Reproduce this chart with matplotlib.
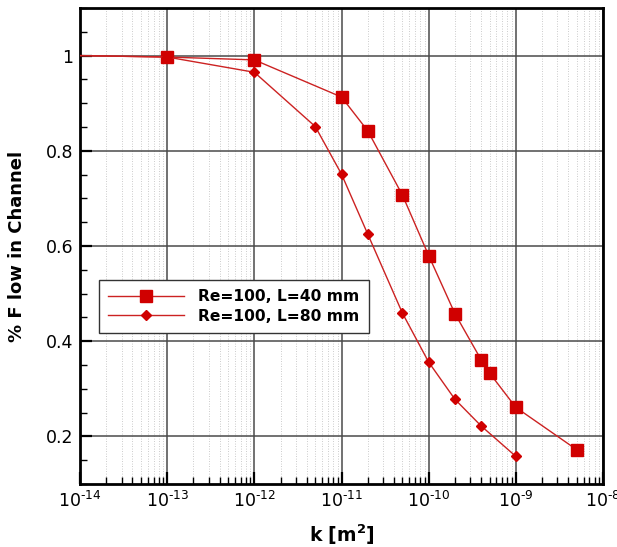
import matplotlib
matplotlib.use("Agg")
import matplotlib.pyplot as plt
import numpy as np
from matplotlib.ticker import LogLocator, MultipleLocator, FuncFormatter, NullFormatter

plt.rcParams['font.family'] = ['DejaVu Sans']
plt.rcParams['mathtext.fontset'] = 'dejavusans'
plt.rcParams['mathtext.default'] = 'regular'

# Data
k_40 = [1e-14, 1e-13, 1e-12, 1e-11, 2e-11, 5e-11, 1e-10, 2e-10, 4e-10, 5e-10, 1e-9, 5e-9]
flow_40 = [1.0, 0.997, 0.991, 0.913, 0.842, 0.707, 0.580, 0.458, 0.361, 0.333, 0.261, 0.172]
k_80 = [1e-14, 1e-13, 1e-12, 5e-12, 1e-11, 2e-11, 5e-11, 1e-10, 2e-10, 4e-10, 1e-9]
flow_80 = [1.0, 0.997, 0.965, 0.851, 0.751, 0.625, 0.459, 0.356, 0.278, 0.222, 0.158]
labels = ['Re=100, L=40 mm', 'Re=100, L=80 mm']
y_ticks = [0.2, 0.4, 0.6, 0.8, 1.0]

line_red = '#cc2222'
mark_red = '#d00000'

fig = plt.figure(figsize=(6.17, 5.47), dpi=100)
ax = fig.add_axes([80/617, 1-484/547, 523/617, 476/547])

ax.plot(k_40, flow_40, color=line_red, lw=1.0, marker='s', ms=8, mfc=mark_red,
        mec=mark_red, markevery=list(range(1, len(k_40))), label=labels[0], zorder=3)
ax.plot(k_80, flow_80, color=line_red, lw=1.0, marker='D', ms=5.2, mfc=mark_red,
        mec=mark_red, markevery=list(range(1, len(k_80))), label=labels[1], zorder=3)

ax.set_xscale('log')
ax.set_xlim(1e-14, 1e-8)
ax.set_ylim(0.1, 1.1)


def pow_fmt(v, p):
    e = int(round(np.log10(v)))
    sign = '\u2010' if e < 0 else ''
    return r'$10^{%s%d}$' % (sign, abs(e))


ax.xaxis.set_major_locator(LogLocator(base=10, numticks=20))
ax.xaxis.set_minor_locator(LogLocator(base=10, subs=range(2, 10), numticks=100))
ax.xaxis.set_major_formatter(FuncFormatter(pow_fmt))
ax.xaxis.set_minor_formatter(NullFormatter())
ax.set_yticks(y_ticks)
ax.yaxis.set_minor_locator(MultipleLocator(0.05))
ax.yaxis.set_major_formatter(FuncFormatter(lambda v, p: '%g' % v))

ax.grid(which='major', color='#4a4a4a', lw=1.1, ls='-', zorder=1)
ax.grid(which='minor', axis='x', color='#bbbbbb', lw=0.6, ls=(0, (1, 2)), zorder=0)
ax.set_axisbelow(True)

ax.tick_params(which='both', direction='in', top=False, right=False, labelsize=12.5)
ax.tick_params(which='major', length=8.5, width=1.6)
ax.tick_params(which='minor', length=5, width=1.0)
ax.tick_params(axis='y', which='major', pad=5)
ax.tick_params(axis='x', which='major', pad=5)

for s in ax.spines.values():
    s.set_linewidth(2.0)
    s.set_color('black')

ax.set_xlabel(r'k [m$^{\mathbf{2}}$]', fontsize=13.5, fontweight='bold', labelpad=8)
ax.set_ylabel('% F low in Channel', fontsize=13, fontweight='bold')
ax.yaxis.set_label_coords(-0.103, 0.5)

leg = ax.legend(loc='lower left', bbox_to_anchor=(0.036, 0.317), borderaxespad=0,
                prop={'weight': 'bold', 'size': 11.2}, handlelength=4.9,
                handletextpad=0.9, fancybox=False, framealpha=1, edgecolor='#333333',
                borderpad=0.6, labelspacing=0.3)
leg.get_frame().set_linewidth(1.0)
leg.set_zorder(10)

fig.savefig('out.png', dpi=100)
